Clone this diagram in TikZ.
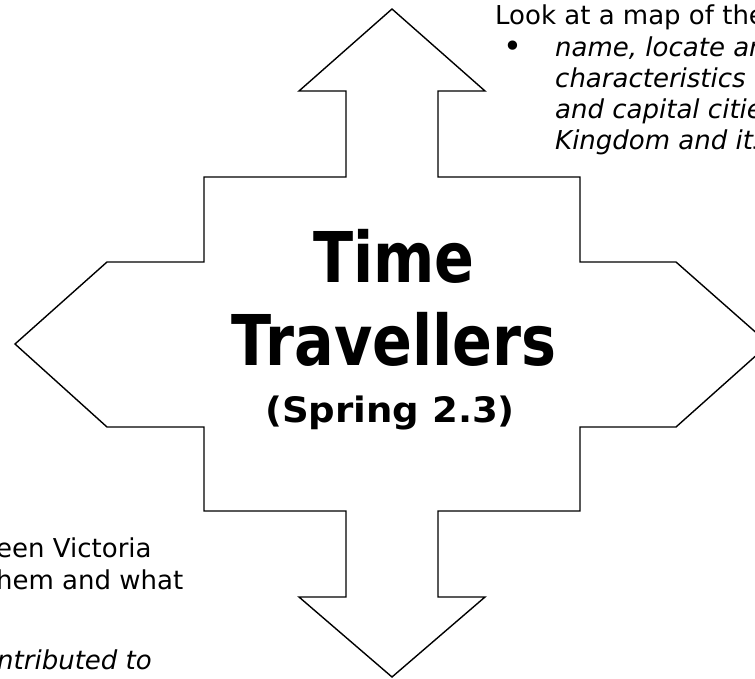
\documentclass[tikz,border=0pt]{standalone}
\usepackage{fontspec}
\setmainfont{DejaVu Sans}
\newfontface\titleface[FakeStretch=0.84]{DejaVu Sans Bold}
\newfontface\subface[FakeStretch=1.06]{DejaVu Sans Bold}
\usetikzlibrary{positioning}

\begin{document}
\begin{tikzpicture}[
    x=1pt, y=-1pt,
    crossarrow/.style={draw, line width=1.4pt, line join=miter, fill=white},
    titletext/.style={anchor=base, inner sep=0pt, font=\fontsize{70}{83}\titleface},
    subtitle/.style={anchor=base, inner sep=0pt, font=\fontsize{35}{40}\subface},
    bodytext/.style={anchor=base west, inner sep=0pt, align=left, font=\fontsize{26}{31.3}\selectfont},
    itemtext/.style={bodytext, font=\fontsize{26}{31.3}\selectfont\itshape}
]
\useasboundingbox (0,0) rectangle (755,679);

% four-way arrow
\draw[crossarrow] (392,9) -- (485,91) -- (438,91) -- (438,177) -- (580,177)
    -- (580,262) -- (676,262) -- (769,344) -- (676,427) -- (580,427)
    -- (580,511) -- (438,511) -- (438,597) -- (485,597) -- (392,677)
    -- (299,597) -- (346,597) -- (346,511) -- (204,511) -- (204,427)
    -- (107,427) -- (15,344) -- (107,262) -- (204,262) -- (204,177)
    -- (346,177) -- (346,91) -- (299,91) -- cycle;

% Title
\node[titletext] (titletime) at (394,282) {Time};
\node[titletext] (titletravel) at (394,365) {Travellers};
\node[subtitle] (titlespring) at (390,422) {(Spring 2.3)};

% Geography (top right)
\node[bodytext] (maphead) at (495,25) {Look at a map of the};
\node[anchor=center, inner sep=0pt, font=\fontsize{32}{32}\selectfont] (mapbullet) at (513,49) {•};
\node[itemtext] (mapitem) at (555,150) {name, locate an\\characteristics o\\and capital citie\\Kingdom and its};

% History (bottom left)
\node[bodytext] (queentext) at (-4,589) {een Victoria\\hem and what};
\node[itemtext] (queenitem) at (-3,669) {ntributed to};

\end{tikzpicture}
\end{document}
